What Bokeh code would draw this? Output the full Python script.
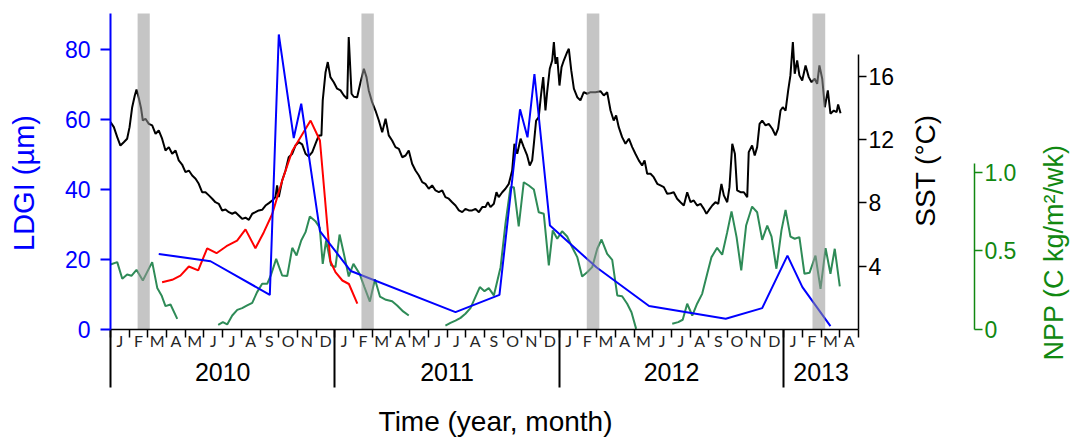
import math
from bokeh.plotting import figure
from bokeh.models import Range1d, LinearAxis, FixedTicker
from bokeh.core.properties import value
from bokeh.embed import file_html
from bokeh.resources import INLINE

NaN = float("nan")

# ---- categories / ticks (x in months since Jan 2010) ----
month_letters = list("JFMAMJJASOND" * 3 + "JFMA")
month_bounds = list(range(0, 41))
month_centers = [m + 0.5 for m in range(40)]
year_labels = ["2010", "2011", "2012", "2013"]
year_bounds = [0, 12, 24, 36]
year_centers = [6, 18, 30, 38]

# ---- grey bands (months) ----
band_start = [1.45, 13.42, 25.47, 37.54]
band_end = [2.10, 14.08, 26.14, 38.22]

# ---- LDGI (um), blue ----
ldgi_x = [2.58, 5.35, 8.52, 9.00, 9.80, 10.20, 11.20, 12.85, 18.45, 20.80, 21.90,
          22.30, 22.67, 23.50, 26.0, 28.80, 32.90, 34.85, 36.20, 37.00, 38.50]
ldgi_v = [21.6, 19.5, 9.9, 84.3, 54.7, 64.5, 28.1, 16.7, 4.95, 9.9, 62.9,
          54.9, 73.0, 29.7, 17.7, 6.7, 3.05, 6.1, 21.1, 12.1, 0.95]

# ---- second LDGI series (red), 2010 ----
red_x = [2.76, 3.30, 3.74, 4.19, 4.69, 5.17, 5.67, 6.20, 6.77, 7.22, 7.75, 8.20,
         8.65, 9.18, 9.72, 10.25, 10.70, 11.20, 11.76, 12.03, 12.40, 12.75, 13.20]
red_v = [13.5, 14.2, 15.4, 18.0, 16.9, 23.2, 21.8, 23.8, 25.4, 28.6, 23.2, 27.8,
         33.0, 42.5, 51.0, 55.7, 59.7, 54.0, 19.5, 16.4, 14.0, 13.0, 7.4]

# ---- SST (deg C), black ----
sst_x = [0.00, 0.18, 0.36, 0.53, 0.71, 0.89, 1.02, 1.16, 1.30, 1.39, 1.51, 1.64, 1.73, 1.87,
         2.05, 2.23, 2.41, 2.58, 2.76, 2.94, 3.12, 3.30, 3.48, 3.65, 3.83, 4.01, 4.19, 4.37,
         4.55, 4.72, 4.90, 5.08, 5.26, 5.44, 5.61, 5.79, 5.97, 6.15, 6.33, 6.51, 6.68, 6.86,
         7.04, 7.22, 7.40, 7.58, 7.75, 7.93, 8.11, 8.29, 8.47, 8.65, 8.82, 8.91, 9.00, 9.18,
         9.36, 9.53, 9.72, 9.89, 10.07, 10.25, 10.43, 10.60, 10.79, 10.96, 11.14, 11.28, 11.35,
         11.50, 11.62, 11.76, 11.94, 12.12, 12.30, 12.48, 12.66, 12.74, 12.89, 13.01, 13.19,
         13.37, 13.55, 13.69, 13.81, 13.99, 14.17, 14.35, 14.53, 14.71, 14.88, 15.06, 15.24,
         15.42, 15.60, 15.78, 15.95, 16.13, 16.31, 16.49, 16.67, 16.84, 17.02, 17.20, 17.38,
         17.56, 17.74, 17.91, 18.09, 18.27, 18.45, 18.63, 18.81, 18.98, 19.16, 19.34, 19.52,
         19.70, 19.88, 20.05, 20.18, 20.32, 20.50, 20.64, 20.76, 20.95, 21.12, 21.30, 21.48,
         21.60, 21.75, 21.93, 22.10, 22.28, 22.42, 22.55, 22.64, 22.76, 22.90, 23.03, 23.14,
         23.26, 23.35, 23.49, 23.62, 23.71, 23.80, 23.89, 24.01, 24.12, 24.24, 24.42, 24.51,
         24.64, 24.78, 24.96, 25.13, 25.31, 25.49, 25.67, 25.94, 26.20, 26.38, 26.56, 26.74,
         26.91, 27.04, 27.18, 27.36, 27.54, 27.72, 27.90, 28.07, 28.25, 28.43, 28.56, 28.70,
         28.88, 29.05, 29.24, 29.41, 29.59, 29.77, 29.95, 30.12, 30.30, 30.48, 30.66, 30.84,
         31.02, 31.19, 31.37, 31.55, 31.73, 31.87, 31.99, 32.18, 32.35, 32.50, 32.67, 32.80,
         32.98, 33.10, 33.25, 33.39, 33.51, 33.69, 33.87, 34.05, 34.13, 34.31, 34.45, 34.58,
         34.71, 34.85, 35.03, 35.20, 35.39, 35.56, 35.70, 35.83, 35.95, 36.10, 36.24, 36.36,
         36.49, 36.59, 36.72, 36.84, 36.99, 37.17, 37.34, 37.49, 37.66, 37.79, 37.91, 38.06,
         38.20, 38.36, 38.50, 38.68, 38.83, 38.91, 39.04]
sst_v = [13.10, 12.78, 12.15, 11.62, 11.83, 12.05, 12.78, 14.04, 14.78, 15.16, 14.64, 13.94, 13.20, 13.31,
         12.99, 12.89, 12.36, 12.57, 12.05, 11.31, 11.52, 11.10, 11.31, 10.68, 10.42, 9.94, 10.04, 9.73,
         9.52, 9.20, 8.67, 8.67, 8.47, 8.26, 8.04, 7.94, 7.52, 7.58, 7.41, 7.31, 7.41, 7.20,
         6.99, 7.06, 6.93, 7.31, 7.41, 7.52, 7.56, 7.83, 7.98, 8.15, 8.36, 9.10, 8.36, 9.41,
         10.04, 10.88, 11.10, 11.62, 11.83, 11.69, 11.10, 10.93, 11.20, 11.73, 12.26, 12.26, 14.47,
         16.25, 16.89, 15.94, 15.62, 15.21, 15.10, 14.78, 14.57, 18.47, 14.89, 14.70, 14.67,
         15.62, 16.47, 15.94, 15.10, 14.36, 13.83, 13.20, 12.46, 13.31, 12.26, 11.94, 11.52,
         11.41, 10.88, 10.99, 11.31, 10.47, 10.04, 9.73, 9.31, 9.20, 8.89, 9.10, 8.78,
         8.67, 8.78, 8.36, 8.26, 8.04, 7.83, 7.52, 7.41, 7.62, 7.52, 7.52, 7.62,
         7.41, 7.73, 7.73, 8.04, 7.73, 7.94, 8.67, 8.36, 8.67, 8.89, 9.20, 10.04,
         11.73, 11.10, 12.05, 11.52, 10.99, 10.36, 10.68, 11.73, 13.20, 13.41, 14.89, 15.94,
         13.83, 14.99, 16.47, 16.99, 18.15, 16.78, 17.20, 15.41, 16.57, 16.99, 17.52, 17.73,
         16.36, 15.21, 14.67, 14.47, 14.99, 14.89, 14.99, 14.99, 15.05, 14.78, 14.99, 13.83,
         13.20, 13.52, 12.78, 12.15, 11.73, 12.05, 11.52, 11.10, 10.68, 10.36, 10.68, 9.84,
         9.84, 9.62, 9.20, 9.10, 8.99, 8.57, 8.61, 8.67, 8.26, 8.04, 7.83, 8.67,
         8.04, 8.15, 7.83, 7.94, 7.62, 7.31, 7.52, 7.83, 8.04, 7.94, 9.20, 8.47,
         8.04, 8.99, 11.73, 11.10, 8.78, 8.67, 8.67, 8.36, 11.20, 11.62, 10.99, 11.52,
         12.99, 13.20, 12.89, 12.99, 12.68, 12.26, 12.68, 13.83, 14.04, 13.83, 15.10, 16.05,
         18.15, 16.15, 16.99, 16.05, 15.73, 16.68, 15.94, 15.62, 15.84, 15.52, 16.68, 15.84,
         14.04, 15.10, 13.63, 13.83, 13.73, 14.21, 13.66]

# ---- NPP (C kg/m2/wk), green; NaN separates gaps ----
npp_x = [0.00, 0.36, 0.63, 0.89, 1.12, 1.39, 1.73, 2.23, 2.50, 2.73, 2.94, 3.21, 3.57, NaN,
         5.76, 6.01, 6.24, 6.51, 6.78, 7.04, 7.31, 7.58, 7.84, 8.11, 8.38, 8.59, 8.86, 9.18,
         9.45, 9.72, 9.95, 10.20, 10.43, 10.66, 10.96, 11.19, 11.35, 11.53, 11.80, 12.03, 12.25,
         12.48, 12.74, 12.99, 13.32, 13.58, 13.87, 14.14, 14.41, 14.73, 15.06, 15.33, 15.65,
         15.95, NaN,
         17.91, 18.18, 18.45, 18.72, 18.98, 19.25, 19.47, 19.75, 20.00, 20.23, 20.50, 20.86,
         21.12, 21.39, 21.57, 21.83, 22.10, 22.37, 22.64, 22.90, 23.17, 23.44, 23.65, 23.89,
         24.15, 24.42, 24.69, 24.96, 25.22, 25.49, 25.76, 26.03, 26.26, 26.56, 26.83, 27.10,
         27.36, 27.63, 27.86, 28.11, NaN,
         30.04, 30.36, 30.60, 30.84, 31.11, 31.37, 31.64, 31.91, 32.14, 32.44, 32.71, 32.98,
         33.21, 33.48, 33.73, 33.99, 34.31, 34.58, 34.85, 35.12, 35.35, 35.61, 35.88, 36.10,
         36.36, 36.59, 36.84, 37.11, 37.38, 37.70, 37.97, 38.24, 38.50, 38.73, 39.00]
npp_v = [0.414, 0.429, 0.323, 0.350, 0.342, 0.380, 0.312, 0.429, 0.265, 0.217, 0.149, 0.159, 0.068, NaN,
         0.030, 0.047, 0.032, 0.089, 0.125, 0.136, 0.153, 0.170, 0.238, 0.291, 0.291, 0.350, 0.450, 0.344,
         0.340, 0.520, 0.471, 0.567, 0.620, 0.720, 0.690, 0.648, 0.418, 0.567, 0.408, 0.397, 0.605,
         0.482, 0.338, 0.418, 0.355, 0.270, 0.178, 0.320, 0.210, 0.189, 0.180, 0.153, 0.115,
         0.089, NaN,
         0.025, 0.042, 0.057, 0.074, 0.100, 0.136, 0.195, 0.270, 0.244, 0.263, 0.217, 0.397,
         0.673, 0.906, 0.906, 0.656, 0.938, 0.917, 0.892, 0.747, 0.737, 0.408, 0.631, 0.578,
         0.626, 0.592, 0.524, 0.461, 0.338, 0.365, 0.397, 0.514, 0.573, 0.482, 0.444, 0.217,
         0.212, 0.164, 0.110, 0.004, NaN,
         0.036, 0.047, 0.062, 0.164, 0.089, 0.164, 0.227, 0.355, 0.461, 0.520, 0.476, 0.620,
         0.752, 0.588, 0.376, 0.662, 0.783, 0.747, 0.571, 0.662, 0.592, 0.387, 0.631, 0.762,
         0.592, 0.578, 0.588, 0.355, 0.361, 0.471, 0.259, 0.518, 0.355, 0.514, 0.274]

ldgi_ticks = [0, 20, 40, 60, 80]
sst_ticks = [4, 8, 12, 16]
npp_ticks = [0, 0.5, 1]
npp_tick_text = ["0", "0.5", "1.0"]

BLUE = "#0000ff"
GREEN_AX = "#118811"
GREEN_LINE = "#2e8b57"
FONT = "Liberation Sans"

# The plotting frame covers the whole canvas; axes are pinned with fixed_location.
p = figure(width=1070, height=437, output_backend="svg", toolbar_location=None,
           x_range=Range1d(-5.882, 51.337), y_range=Range1d(-30.857, 94.0),
           x_axis_location=None, y_axis_location=None,
           min_border=0, min_border_left=0, min_border_right=0,
           min_border_top=0, min_border_bottom=0, outline_line_color=None)
p.extra_y_ranges = {"sst": Range1d(-6.822, 20.78), "npp": Range1d(-0.688, 2.0955)}
p.grid.visible = False
p.background_fill_color = "white"
p.border_fill_color = "white"

# data lines
p.line(sst_x, sst_v, y_range_name="sst", line_color="black", line_width=2)
p.line(npp_x, npp_v, y_range_name="npp", line_color=GREEN_LINE, line_width=2)
p.line(red_x, red_v, line_color="#ff0000", line_width=2)
p.line(ldgi_x, ldgi_v, line_color=BLUE, line_width=2)
# grey bands on top
p.quad(left=band_start, right=band_end, bottom=0, top=90.3,
       fill_color="#969696", fill_alpha=0.55, line_color=None)

# ---- left LDGI axis ----
ya = LinearAxis(fixed_location=0, ticker=FixedTicker(ticks=ldgi_ticks), bounds=(0, 90.3))
ya.axis_line_color = BLUE
ya.axis_line_width = 2
ya.major_tick_line_color = BLUE
ya.major_tick_line_width = 2
ya.major_tick_out = 10
ya.major_tick_in = 0
ya.minor_tick_line_color = None
ya.major_label_text_color = BLUE
ya.major_label_text_font = FONT
ya.major_label_text_font_size = "23px"
ya.major_label_standoff = 10
p.add_layout(ya, "left")

# ---- right SST axis ----
sa = LinearAxis(y_range_name="sst", fixed_location=40, ticker=FixedTicker(ticks=sst_ticks),
                bounds=(0, 17.4))
sa.axis_line_color = "black"
sa.axis_line_width = 1.5
sa.major_tick_line_color = "black"
sa.major_tick_line_width = 1.5
sa.major_tick_out = 8
sa.major_tick_in = 0
sa.minor_tick_line_color = None
sa.major_label_text_font = FONT
sa.major_label_text_font_size = "23px"
sa.major_label_text_color = "black"
sa.major_label_standoff = 2
p.add_layout(sa, "right")

# ---- right NPP axis ----
na = LinearAxis(y_range_name="npp", fixed_location=46.2, ticker=FixedTicker(ticks=npp_ticks),
                bounds=(0, 1.06),
                major_label_overrides={k: t for k, t in zip(npp_ticks, npp_tick_text)})
na.axis_line_color = GREEN_AX
na.axis_line_width = 1.5
na.major_tick_line_color = GREEN_AX
na.major_tick_line_width = 1.5
na.major_tick_out = 8
na.major_tick_in = 0
na.minor_tick_line_color = None
na.major_label_text_font = FONT
na.major_label_text_font_size = "23px"
na.major_label_text_color = GREEN_AX
na.major_label_standoff = 2
p.add_layout(na, "right")

# ---- bottom: month ticks and letters ----
xa = LinearAxis(fixed_location=0, bounds=(0, 40),
                ticker=FixedTicker(ticks=month_centers, minor_ticks=month_bounds),
                major_label_overrides={c: l for c, l in zip(month_centers, month_letters)})
xa.major_tick_line_color = None
xa.major_tick_out = 0
xa.major_tick_in = 0
xa.minor_tick_line_color = "black"
xa.minor_tick_line_width = 1.5
xa.minor_tick_out = 8
xa.minor_tick_in = 0
xa.axis_line_color = "black"
xa.axis_line_width = 1.5
xa.major_label_text_font = "Lato"
xa.major_label_text_font_size = "16px"
xa.major_label_text_color = "#262626"
xa.major_label_standoff = -7
p.add_layout(xa, "below")

# ---- bottom: long year separators ----
yl = LinearAxis(fixed_location=0, bounds=(0, 40),
                ticker=FixedTicker(ticks=[], minor_ticks=year_bounds))
yl.axis_line_color = None
yl.major_tick_line_color = None
yl.minor_tick_line_color = "black"
yl.minor_tick_line_width = 2
yl.minor_tick_out = 58
yl.minor_tick_in = 0
p.add_layout(yl, "below")

# ---- bottom: year labels ----
yr = LinearAxis(fixed_location=0, bounds=(0, 40),
                ticker=FixedTicker(ticks=year_centers),
                major_label_overrides={c: l for c, l in zip(year_centers, year_labels)})
yr.axis_line_color = None
yr.major_tick_line_color = None
yr.major_tick_out = 0
yr.major_tick_in = 0
yr.minor_tick_line_color = None
yr.major_label_text_font = FONT
yr.major_label_text_font_size = "25px"
yr.major_label_text_color = "black"
yr.major_label_standoff = 33
p.add_layout(yr, "below")

# ---- axis titles ----
p.text(x=[-4.64], y=[41.86], text=["LDGI (µm)"], angle=math.pi / 2,
       text_align="center", text_baseline="middle", text_font=value(FONT),
       text_font_size=value("29px"), text_color=BLUE)
p.text(x=[43.56], y=[45.43], text=["SST (°C)"], angle=math.pi / 2,
       text_align="center", text_baseline="middle", text_font=value(FONT),
       text_font_size=value("28px"), text_color="black")
p.text(x=[50.45], y=[22.0], text=["NPP (C kg/m²/wk)"], angle=math.pi / 2,
       text_align="center", text_baseline="middle", text_font=value(FONT),
       text_font_size=value("27px"), text_color=GREEN_AX)
p.text(x=[20.59], y=[-26.2], text=["Time (year, month)"],
       text_align="center", text_baseline="middle", text_font=value(FONT),
       text_font_size=value("28px"), text_color="black")

open("out.html", "w").write(file_html(p, INLINE))
